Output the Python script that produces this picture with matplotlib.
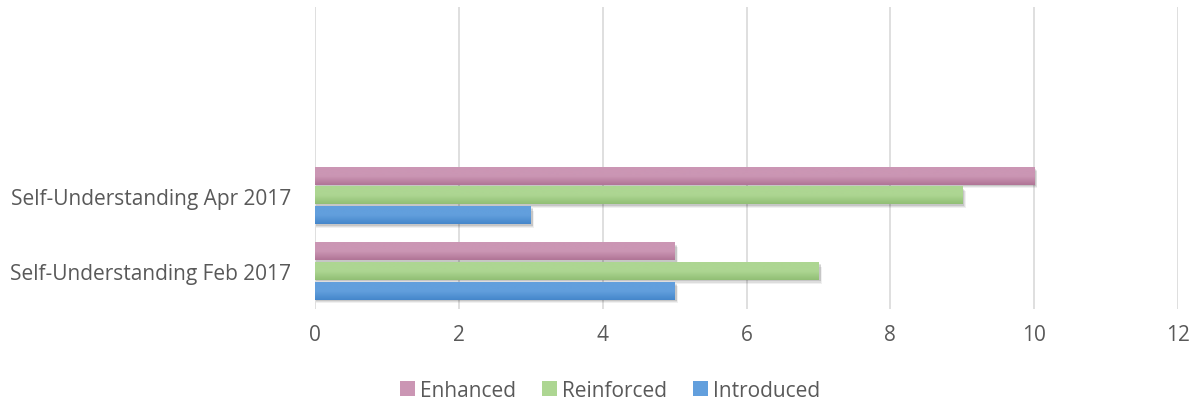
import matplotlib.pyplot as plt
import numpy as np
from matplotlib.colors import LinearSegmentedColormap

# data
categories = ["Self-Understanding Feb 2017", "Self-Understanding Apr 2017"]
series = ["Enhanced", "Reinforced", "Introduced"]
enhanced = [5, 10]
reinforced = [7, 9]
introduced = [5, 3]
values = [enhanced, reinforced, introduced]
colors = ["#CB96B4", "#ADD692", "#629FDD"]
dark = ["#B07596", "#91BF75", "#4587CB"]

plt.rcParams['font.family'] = ['Open Sans', 'DejaVu Sans']

fig = plt.figure(figsize=(12, 4.06), dpi=100)
ax = fig.add_axes([0.2625, 0.236, 0.7192, 0.745])

h = 0.227
offsets = [0.26, 0.0, -0.26]
ypos = np.arange(len(categories))

for vals, off, c, d, name in zip(values, offsets, colors, dark, series):
    cmap = LinearSegmentedColormap.from_list("g", [d, c, c])
    for y, v in zip(ypos, vals):
        yc = y + off
        # soft shadow below the bar
        for k, a in zip([0.05, 0.035, 0.02], [0.06, 0.08, 0.1]):
            ax.barh(yc - k, v + k / 2, height=h, left=0.02, color="#000000", alpha=a,
                    zorder=2, lw=0)
        grad = np.linspace(0, 1, 50).reshape(-1, 1)
        ax.imshow(grad, extent=(0, v, yc - h / 2, yc + h / 2), cmap=cmap, aspect="auto",
                  origin="lower", zorder=3, interpolation="bilinear")
    ax.barh([0], [0], color=c, label=name)

ax.set_xlim(0, 12)
ax.set_ylim(-0.5, 3.5)
ax.set_xticks(range(0, 13, 2))
ax.set_yticks(ypos)
ax.set_yticklabels(categories)
ax.grid(axis="x", color="#D9D9D9", lw=1.2, zorder=0)
ax.set_axisbelow(True)
for s in ax.spines.values():
    s.set_visible(False)
ax.tick_params(length=0, labelsize=15, colors="#595959", pad=17)
ax.tick_params(axis="x", pad=11)

ax.legend(loc="center", bbox_to_anchor=(0.342, -0.268), ncol=3, frameon=False,
          fontsize=15, labelcolor="#595959", handlelength=0.7, handleheight=0.7,
          handletextpad=0.25, columnspacing=1.25)

fig.savefig("out.png", dpi=100)
